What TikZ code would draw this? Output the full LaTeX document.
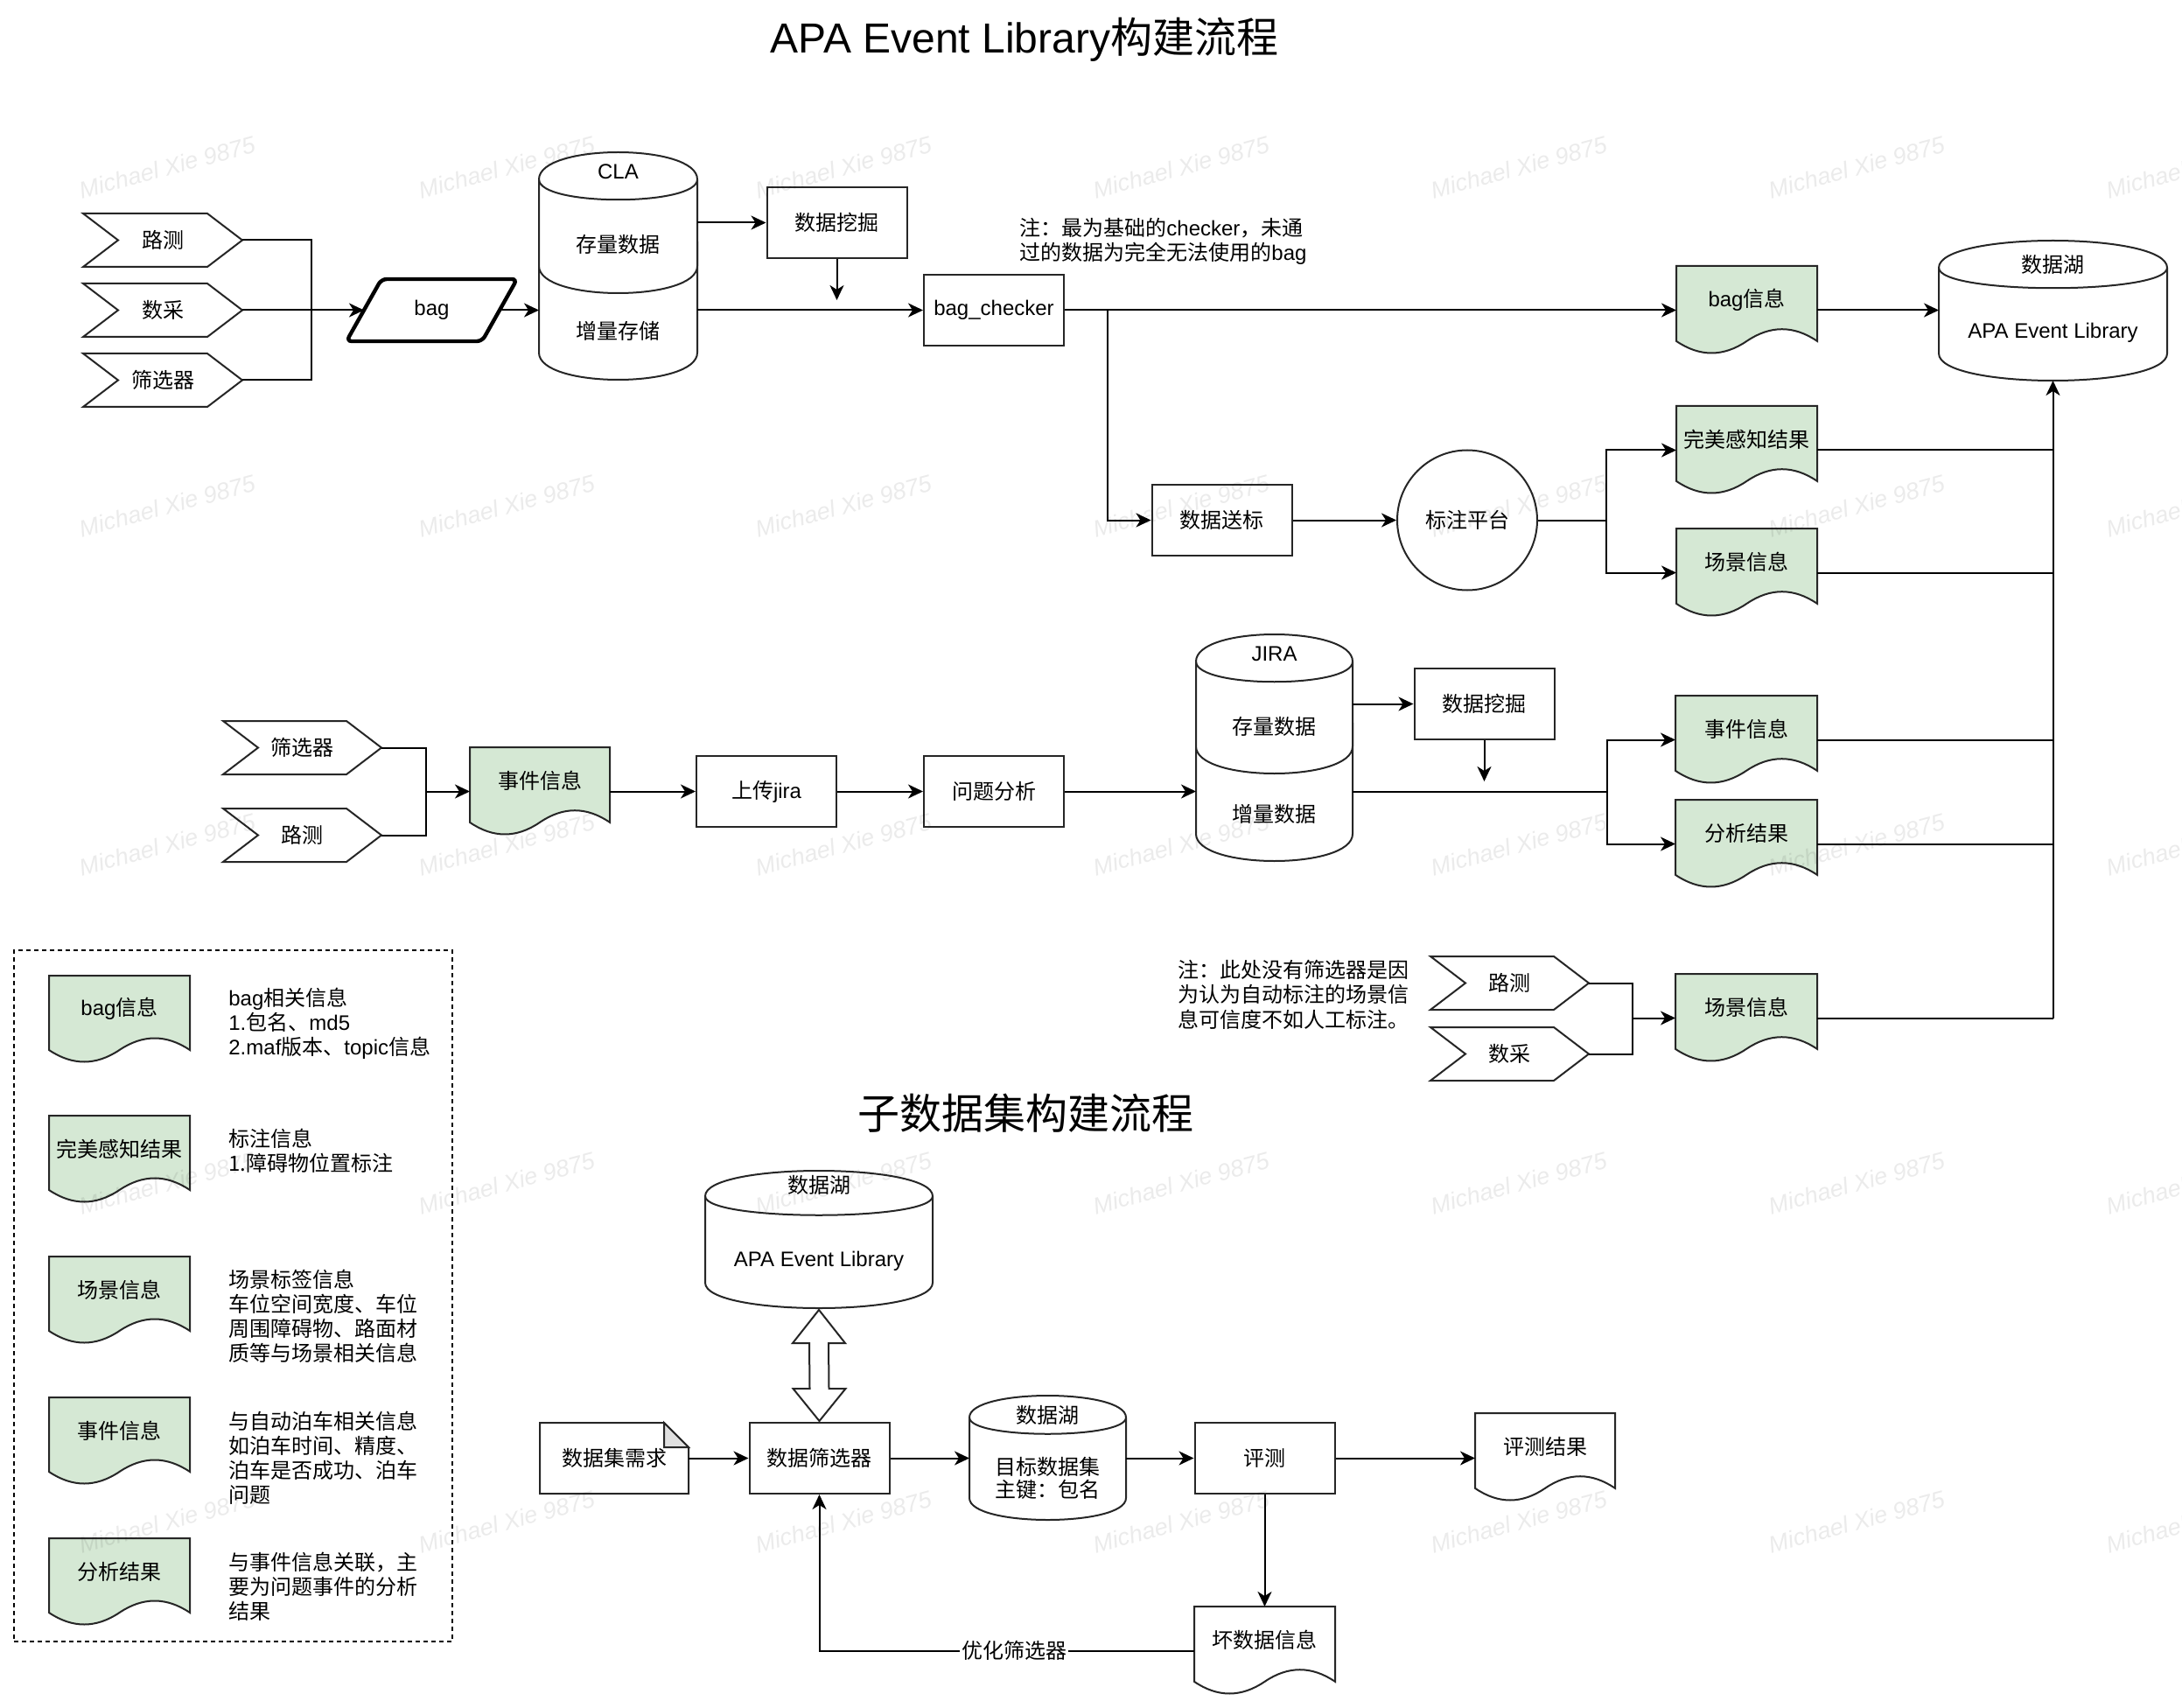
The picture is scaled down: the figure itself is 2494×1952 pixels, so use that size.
\documentclass[tikz,border=0pt]{standalone}
\usepackage{fontspec}
\setmainfont{Liberation Sans}
\newfontfamily\cjk{Noto Sans CJK SC}
\newcommand\zh[1]{{\cjk #1}}
\usetikzlibrary{arrows.meta,fit,calc}
\definecolor{docgreen}{HTML}{D5E8D4}

\tikzset{
  ln/.style={draw=black, line width=1pt},
  arr/.style={ln, -{Stealth[length=8.5pt,width=8pt,inset=2.5pt]}},
  shp/.style={draw=black!85, line width=1pt},
  box/.style={shp, fill=white, rectangle, minimum width=80pt, minimum height=40.5pt, inner sep=0pt},
  anchorbox/.style={inner sep=0pt, outer sep=0pt},
  txt/.style={inner sep=0pt, align=left},
  wm/.style={font=\fontsize{13.5}{16}\selectfont\itshape, text=black, text opacity=0.08, rotate=15}
}

% document shape (drawio "document")
\newcommand\docshape[7]{%
  \draw[shp, fill=#6] (#2,#3) -- (#4,#3) -- (#4,{#3+0.85*(#5-#3)})
    .. controls ({#2+0.8333*(#4-#2)},{#3+0.67*(#5-#3)}) and ({#2+0.6667*(#4-#2)},{#3+0.67*(#5-#3)}) .. ({#2+0.5*(#4-#2)},{#3+0.85*(#5-#3)})
    .. controls ({#2+0.3333*(#4-#2)},{#3+1.03*(#5-#3)}) and ({#2+0.1667*(#4-#2)},{#3+1.03*(#5-#3)}) .. (#2,{#3+0.85*(#5-#3)}) -- cycle;
  \node[fit={(#2,#3) (#4,#5)}, anchorbox] (#1) {};
  \node (#1-t) at ({(#2+#4)/2},{#3+0.38*(#5-#3)}) {#7};
}
% cylinder shape
\newcommand\cylshape[5]{%
  \draw[shp, fill=white] (#1,{#2+#5}) .. controls (#1,{#2-#5/3}) and (#3,{#2-#5/3}) .. (#3,{#2+#5}) -- (#3,{#4-#5}) .. controls (#3,{#4+#5/3}) and (#1,{#4+#5/3}) .. (#1,{#4-#5}) -- cycle;
  \draw[shp] (#1,{#2+#5}) .. controls (#1,{#2+2*#5}) and (#3,{#2+2*#5}) .. (#3,{#2+#5});
}
% step (chevron) shape
\newcommand\stepshape[6]{%
  \draw[shp, fill=white] (#2,#3) -- ({#4-40},#3) -- (#4,{(#3+#5)/2}) -- ({#4-40},#5) -- (#2,#5) -- ({#2+40},{(#3+#5)/2}) -- cycle;
  \node[fit={(#2,#3) (#4,#5)}, anchorbox] (#1) {};
  \node (#1-t) at ({(#2+#4)/2},{(#3+#5)/2}) {#6};
}

\begin{document}
\begin{tikzpicture}[x=0.5pt,y=-0.5pt, every node/.append style={font=\fontsize{12}{14}\selectfont}]
\useasboundingbox (0,0) rectangle (2494,1952);
\fill[white] (0,0) rectangle (2494,1952);

% titles
\node (title1) at (1171,45) {\fontsize{24}{28}\selectfont APA Event Library\zh{构建流程}};
\node (title2) at (1172,1272) {\fontsize{24}{28}\selectfont\zh{子数据集构建流程}};

% ===== top row =====
\stepshape{s1}{95}{244}{277}{305}{\zh{路测}}
\stepshape{s2}{95}{324}{277}{385}{\zh{数采}}
\stepshape{s3}{95}{404}{277}{465}{\zh{筛选器}}
\coordinate (j1) at (356,354.5);

\node[anchorbox, minimum width=77.5pt, minimum height=35.5pt] (bag) at (493.5,354.5) {};
\draw[draw=black, line width=2.2pt, rounded corners=3pt, fill=white] ($(bag.south west)+(-20,0)$) -- ($(bag.north west)+(20,0)$) -- ($(bag.north east)+(20,0)$) -- ($(bag.south east)+(-20,0)$) -- cycle;
\node (bag-t) at (bag) {bag};

\cylshape{616}{245}{797}{434}{31}
\cylshape{616}{174}{797}{335}{31}
\node[fit={(616,174) (797,434)}, anchorbox] (cla) {};
\node (cla-t1) at (706.5,196) {CLA};
\node (cla-t2) at (706.5,279) {\zh{存量数据}};
\node (cla-t3) at (706.5,378) {\zh{增量存储}};

\node[box] (mine1) at (956.5,254.5) {\zh{数据挖掘}};
\coordinate (m1e) at (956.5,343);
\node[box] (checker) at (1136,354.5) {bag\_checker};
\node[txt, anchor=west] (note1) at (1165,276) {\zh{注：最为基础的}checker\zh{，未通}\\\zh{过的数据为完全无法使用的}bag};

\coordinate (b1) at (1266,354.5);
\node[box] (send) at (1396.5,594.5) {\zh{数据送标}};
\node[shp, circle, fill=white, minimum size=80pt, inner sep=0pt] (lab) at (1677,594.5) {\zh{标注平台}};
\coordinate (j2) at (1836,594.5);

\docshape{bagi}{1916}{304}{2077}{405}{docgreen}{bag\zh{信息}}
\docshape{perf}{1916}{464}{2077}{565}{docgreen}{\zh{完美感知结果}}
\docshape{scn1}{1916}{604}{2077}{705}{docgreen}{\zh{场景信息}}

\cylshape{2216}{275}{2477}{435}{31}
\node[fit={(2216,275) (2477,435)}, anchorbox] (lake1) {};
\node (lake1-t1) at (2346.5,302) {\zh{数据湖}};
\node (lake1-t2) at (2346.5,380) {APA Event Library};

\draw[ln] (s1.east) -| (j1);
\draw[ln] (s3.east) -| (j1);
\draw[arr] (s2.east) -- (bag.west);
\draw[arr] (bag.east) -- (bag.east -| cla.west);
\draw[arr] (cla.east |- mine1.west) -- (mine1.west);
\draw[arr] (mine1.south) -- (m1e);
\draw[arr] (cla.east |- checker.west) -- (checker.west);
\draw[arr] (checker.east) -- (bagi.west);
\draw[arr] (b1) |- (send.west);
\draw[arr] (send.east) -- (lab.west);
\draw[ln] (lab.east) -- (j2);
\draw[arr] (j2) |- (perf.west);
\draw[arr] (j2) |- (scn1.west);
\draw[arr] (bagi.east) -- (bagi.east -| lake1.west);

% ===== middle row =====
\stepshape{f2}{255}{824}{436}{885}{\zh{筛选器}}
\stepshape{r2}{255}{924}{436}{985}{\zh{路测}}
\coordinate (j4) at (487,904.5);
\docshape{evt1}{537}{854}{697}{955}{docgreen}{\zh{事件信息}}
\node[box] (up) at (876,904.5) {\zh{上传}jira};
\node[box] (ana) at (1136,904.5) {\zh{问题分析}};

\cylshape{1367}{795}{1546}{984}{31}
\cylshape{1367}{725}{1546}{884}{31}
\node[fit={(1367,725) (1546,984)}, anchorbox] (jira) {};
\node (jira-t1) at (1456.5,747) {JIRA};
\node (jira-t2) at (1456.5,830) {\zh{存量数据}};
\node (jira-t3) at (1456.5,930) {\zh{增量数据}};

\node[box] (mine2) at (1696.5,804.5) {\zh{数据挖掘}};
\coordinate (m2e) at (1696.5,893);
\coordinate (j3) at (1837,904.5);
\docshape{evt2}{1915}{795}{2077}{896}{docgreen}{\zh{事件信息}}
\docshape{res2}{1915}{914}{2077}{1015}{docgreen}{\zh{分析结果}}

\draw[ln] (f2.east) -| (j4);
\draw[ln] (r2.east) -| (j4);
\draw[arr] (j4) -- (evt1.west);
\draw[arr] (evt1.east) -- (up.west);
\draw[arr] (up.east) -- (ana.west);
\draw[arr] (ana.east) -- (ana.east -| jira.west);
\draw[arr] (jira.east |- mine2.west) -- (mine2.west);
\draw[arr] (mine2.south) -- (m2e);
\draw[ln] (jira.east |- j3) -- (j3);
\draw[arr] (j3) |- (evt2.west);
\draw[arr] (j3) |- (res2.west);

% ===== lower right =====
\node[txt, anchor=west, font=\fontsize{12}{14.2}\selectfont\cjk] (note2) at (1346,1136.5) {注：此处没有筛选器是因\\为认为自动标注的场景信\\息可信度不如人工标注。};
\stepshape{r3}{1635}{1093}{1816}{1154}{\zh{路测}}
\stepshape{c3}{1635}{1174}{1816}{1235}{\zh{数采}}
\docshape{scn2}{1915}{1113}{2077}{1214}{docgreen}{\zh{场景信息}}
\coordinate (j5) at (1866,1163.5);
\draw[ln] (r3.east) -| (j5);
\draw[ln] (c3.east) -| (j5);
\draw[arr] (j5) -- (scn2.west);

\coordinate (t0) at (scn2.east -| lake1.south);
\draw[ln] (scn2.east) -- (t0);
\draw[arr] (t0) -- (lake1.south);
\draw[ln] (perf.east) -- (perf.east -| t0);
\draw[ln] (scn1.east) -- (scn1.east -| t0);
\draw[ln] (evt2.east) -- (evt2.east -| t0);
\draw[ln] (res2.east) -- (res2.east -| t0);

% ===== legend =====
\node[fit={(16,1086) (517,1876)}, inner sep=0pt, draw=black, line width=1pt, dash pattern=on 2.5pt off 2pt] (legend) {};
\docshape{lgd1}{56}{1115}{217}{1215}{docgreen}{bag\zh{信息}}
\docshape{lgd2}{56}{1275}{217}{1375}{docgreen}{\zh{完美感知结果}}
\docshape{lgd3}{56}{1436}{217}{1536}{docgreen}{\zh{场景信息}}
\docshape{lgd4}{56}{1597}{217}{1697}{docgreen}{\zh{事件信息}}
\docshape{lgd5}{56}{1758}{217}{1858}{docgreen}{\zh{分析结果}}
\node[txt, anchor=west] (lgt1) at (261,1170) {bag\zh{相关信息}\\1.\zh{包名、}md5\\2.maf\zh{版本、}topic\zh{信息}};
\node[txt, anchor=west, font=\fontsize{12}{14}\selectfont\cjk] (lgt2) at (261,1315) {标注信息\\1.障碍物位置标注};
\node[txt, anchor=west, font=\fontsize{12}{14}\selectfont\cjk] (lgt3) at (261,1504.5) {场景标签信息\\车位空间宽度、车位\\周围障碍物、路面材\\质等与场景相关信息};
\node[txt, anchor=west, font=\fontsize{12}{14}\selectfont\cjk] (lgt4) at (261,1666) {与自动泊车相关信息\\如泊车时间、精度、\\泊车是否成功、泊车\\问题};
\node[txt, anchor=west, font=\fontsize{12}{14}\selectfont\cjk] (lgt5) at (261,1813) {与事件信息关联，主\\要为问题事件的分析\\结果};

% ===== sub dataset flow =====
\cylshape{806}{1338}{1066}{1495}{29}
\node[fit={(806,1338) (1066,1495)}, anchorbox] (lake2) {};
\node (lake2-t1) at (936,1354) {\zh{数据湖}};
\node (lake2-t2) at (936,1441) {APA Event Library};

\node[box] (filt) at (936.5,1666.5) {\zh{数据筛选器}};

\draw[shp, fill=white] (617,1626) -- (759,1626) -- (787,1654) -- (787,1707) -- (617,1707) -- cycle;
\draw[shp, fill=black!12] (759,1626) -- (759,1654) -- (787,1654) -- cycle;
\node[fit={(617,1626) (787,1707)}, anchorbox] (need) {};
\node (need-t) at (702,1666.5) {\zh{数据集需求}};

\draw[shp, fill=white] ($(lake2.south)+(0,2)$) -- ($(lake2.south)+(30,40)$) -- ($(lake2.south)+(11,40)$) -- ($(filt.north)+(11,-38)$) -- ($(filt.north)+(30,-38)$) -- ($(filt.north)+(0,-1)$) -- ($(filt.north)+(-30,-38)$) -- ($(filt.north)+(-11,-38)$) -- ($(lake2.south)+(-11,40)$) -- ($(lake2.south)+(-30,40)$) -- cycle;

\cylshape{1108}{1595}{1287}{1737}{25}
\node[fit={(1108,1595) (1287,1737)}, anchorbox] (lake3) {};
\node (lake3-t1) at (1197.5,1617) {\zh{数据湖}};
\node[align=center, font=\fontsize{12}{13}\selectfont\cjk] (lake3-t2) at (1197.5,1689) {目标数据集\\主键：包名};

\node[box] (eval) at (1445.5,1666.5) {\zh{评测}};
\docshape{evres}{1686}{1615}{1846}{1716}{white}{\zh{评测结果}}
\docshape{bad}{1365}{1836}{1526}{1937}{white}{\zh{坏数据信息}}

\draw[arr] (need.east) -- (filt.west);
\draw[arr] (filt.east) -- (filt.east -| lake3.west);
\draw[arr] (lake3.east |- eval.west) -- (eval.west);
\draw[arr] (eval.east) -- (eval.east -| evres.west);
\draw[arr] (eval.south) -- (bad.north);
\draw[arr] (bad.west) -| (filt.south) node[pos=0.24, fill=white, inner sep=1pt] (optlbl) {\zh{优化筛选器}};

% ===== watermark =====
\foreach \wx in {191,579,964,1350,1736,2122,2508} {
  \foreach \wy in {191,578,965,1352,1739} {
    \node[wm] (wm-\wx-\wy) at (\wx,\wy) {Michael Xie 9875};
  }
}
\end{tikzpicture}
\end{document}
